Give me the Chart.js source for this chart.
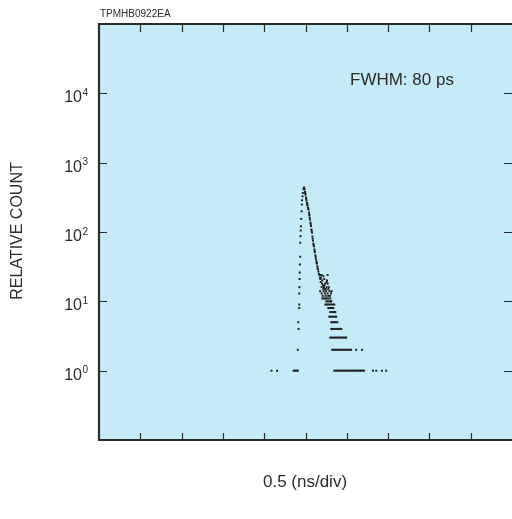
<!DOCTYPE html>
<html>
<head>
<meta charset="utf-8">
<script src="https://cdn.jsdelivr.net/npm/chart.js@4/dist/chart.umd.min.js"></script>
<style>
    html, body { margin: 0; padding: 0; background: #fff; overflow: hidden; }
    #decayChart { display: block; }
</style>
</head>
<body>
<canvas id="decayChart" width="516" height="519"></canvas>
<script>
// time in ns (0.5 ns per division), count on log scale
const xTickValues = [0.5, 1, 1.5, 2, 2.5, 3, 3.5, 4, 4.5];
const yTickValues = [1, 10, 100, 1000, 10000];
const yTickExponents = ['0', '1', '2', '3', '4'];

// rising edge
const riseTimes = [2.426, 2.424, 2.428, 2.430, 2.432, 2.436, 2.436, 2.440, 2.442, 2.444, 2.448, 2.452, 2.456, 2.458, 2.464, 2.468, 2.476];
const riseCounts = [16, 13, 21, 26, 34, 44, 70, 87, 105, 121, 155, 199, 249, 287, 327, 366, 417];

// decay trace
const decayTimes = [2.482, 2.485, 2.488, 2.494, 2.497, 2.500, 2.506, 2.509, 2.512, 2.518, 2.521, 2.524, 2.530, 2.533, 2.536,
    2.542, 2.545, 2.548, 2.551, 2.554, 2.560, 2.563, 2.566, 2.572, 2.575, 2.578, 2.584, 2.587, 2.590, 2.596, 2.599,
    2.602, 2.608, 2.611, 2.614, 2.620, 2.623, 2.626, 2.632, 2.635, 2.638, 2.644, 2.647, 2.650, 2.656, 2.662, 2.668, 2.674, 2.680];
const decayCounts = [438, 425, 410, 377, 360, 347, 314, 300, 284, 262, 250, 241, 225, 218, 211,
    191, 180, 173, 160, 151, 137, 130, 122, 109, 104, 98, 86, 80, 75, 68, 65,
    62, 56, 53, 51, 46, 44, 41, 38, 36, 35, 32, 30, 29, 27, 25, 24, 22, 21];

// scattered tail points
const tailTimes = [2.677, 2.696, 2.716, 2.689, 2.728, 2.704, 2.756, 2.737, 2.768, 2.696, 2.716, 2.744, 2.776, 2.677,
    2.696, 2.737, 2.768, 2.809, 2.708, 2.744, 2.776, 2.768, 2.816, 2.728, 2.756, 2.720, 2.790, 2.750,
    2.684, 2.700, 2.712, 2.724, 2.733, 2.760, 2.782, 2.796];
const tailCounts = [24, 24, 23, 22, 21, 20, 19, 18, 18, 16, 15, 15, 15, 14,
    13, 13, 13, 13, 12, 12, 12, 24, 14, 17, 16, 14, 14, 14,
    19, 18, 17, 16, 15, 20, 16, 12];

// low counts sit on integer rows
const level1 = [2.088, 2.155, 2.356, 2.374, 2.392, 2.407, 2.849, 2.867, 2.885, 2.903, 2.921, 2.939, 2.957, 2.975, 2.993,
    3.011, 3.029, 3.047, 3.065, 3.083, 3.101, 3.119, 3.137, 3.155, 3.173, 3.191, 3.209, 3.317, 3.357, 3.425, 3.477];
const level2 = [2.407, 2.824, 2.842, 2.860, 2.878, 2.896, 2.914, 2.932, 2.950, 2.968, 2.986, 3.004, 3.022, 3.040, 3.053, 3.113, 3.185];
const level3 = [2.800, 2.818, 2.836, 2.854, 2.872, 2.890, 2.908, 2.926, 2.944, 2.962, 2.980, 2.993];
const level4 = [2.416, 2.812, 2.830, 2.848, 2.866, 2.884, 2.902, 2.920, 2.933];
const level5 = [2.412, 2.812, 2.830, 2.848, 2.866, 2.885];
const level6 = [2.788, 2.806, 2.824, 2.842, 2.860, 2.873];
const level7 = [2.800, 2.818, 2.836, 2.854, 2.861];
const level8 = [2.424, 2.776, 2.794, 2.812, 2.830, 2.836];
const level9 = [2.424, 2.740, 2.758, 2.776, 2.794, 2.812, 2.830, 2.849];
const level10 = [2.752, 2.770, 2.788, 2.806, 2.812];
const level11 = [2.704, 2.722, 2.740, 2.758, 2.776, 2.800];

document.addEventListener('DOMContentLoaded', () => {
    const FONT = '"Liberation Sans", Arial, Helvetica, sans-serif';
    const INK = '#2b2b2b';

    const points = [];
    riseTimes.forEach((t, i) => points.push({ x: t, y: riseCounts[i] }));
    decayTimes.forEach((t, i) => points.push({ x: t, y: decayCounts[i] }));
    tailTimes.forEach((t, i) => points.push({ x: t, y: tailCounts[i] }));
    [level1, level2, level3, level4, level5, level6, level7, level8, level9, level10, level11].forEach((row, i) => {
        row.forEach(t => points.push({ x: t, y: i + 1 }));
    });

    // background, frame, inward ticks and all the text
    const framePlugin = {
        id: 'frame',
        beforeDatasetsDraw(chart) {
            const { ctx, chartArea: a } = chart;
            ctx.save();
            ctx.fillStyle = '#c7eaf9';
            ctx.fillRect(a.left, a.top, a.right - a.left, a.bottom - a.top);
            ctx.restore();
        },
        afterDraw(chart) {
            const { ctx, chartArea: a, scales: { x, y } } = chart;
            ctx.save();

            ctx.strokeStyle = INK;
            ctx.lineWidth = 1.2;
            ctx.beginPath();
            xTickValues.forEach(v => {
                const px = Math.round(x.getPixelForValue(v)) + 0.5;
                ctx.moveTo(px, a.top); ctx.lineTo(px, a.top + 8);
                ctx.moveTo(px, a.bottom); ctx.lineTo(px, a.bottom - 7);
            });
            yTickValues.forEach(v => {
                const py = Math.round(y.getPixelForValue(v)) + 0.5;
                ctx.moveTo(a.left, py); ctx.lineTo(a.left + 8, py);
                ctx.moveTo(a.right, py); ctx.lineTo(a.right - 8, py);
            });
            ctx.stroke();

            ctx.lineWidth = 2.2;
            ctx.beginPath();
            ctx.moveTo(a.right + 2, a.top);
            ctx.lineTo(a.left, a.top);
            ctx.lineTo(a.left, a.bottom);
            ctx.lineTo(a.right + 2, a.bottom);
            ctx.stroke();

            ctx.fillStyle = INK;
            yTickValues.forEach((v, i) => {
                const py = y.getPixelForValue(v);
                ctx.font = '16px ' + FONT;
                ctx.textAlign = 'right';
                ctx.textBaseline = 'alphabetic';
                ctx.fillText('10', 82, py + 9);
                ctx.font = '10px ' + FONT;
                ctx.textAlign = 'left';
                ctx.fillText(yTickExponents[i], 82.5, py + 2.5);
            });

            ctx.font = '10px ' + FONT;
            ctx.textAlign = 'left';
            ctx.fillText('TPMHB0922EA', 100, 17);

            ctx.font = '17px ' + FONT;
            ctx.fillText('FWHM: 80 ps', 350, 85);

            ctx.font = '17px ' + FONT;
            ctx.textAlign = 'center';
            ctx.textBaseline = 'middle';
            ctx.fillText('0.5 (ns/div)', 305, 482);

            ctx.font = '16px ' + FONT;
            ctx.translate(18, 231);
            ctx.rotate(-Math.PI / 2);
            ctx.fillText('RELATIVE COUNT', 0, 0);

            ctx.restore();
        }
    };

    const ctx = document.getElementById('decayChart').getContext('2d');
    new Chart(ctx, {
        type: 'scatter',
        data: {
            datasets: [{
                data: points,
                pointStyle: 'rect',
                pointRadius: 1.4,
                borderWidth: 0,
                backgroundColor: '#1e1e1e'
            }]
        },
        options: {
            responsive: false,
            animation: false,
            layout: { padding: { top: 24, right: 1, left: 0, bottom: 0 } },
            plugins: { legend: { display: false }, tooltip: { enabled: false } },
            scales: {
                x: {
                    type: 'linear', min: 0, max: 5,
                    grid: { display: false, drawTicks: false },
                    border: { display: false },
                    ticks: { display: false, stepSize: 0.5 },
                    afterFit: s => { s.height = 79; }
                },
                y: {
                    type: 'logarithmic', min: 0.1, max: 100000,
                    grid: { display: false, drawTicks: false },
                    border: { display: false },
                    ticks: { display: false },
                    afterFit: s => { s.width = 99; }
                }
            }
        },
        plugins: [framePlugin]
    });
});
</script>
</body>
</html>
